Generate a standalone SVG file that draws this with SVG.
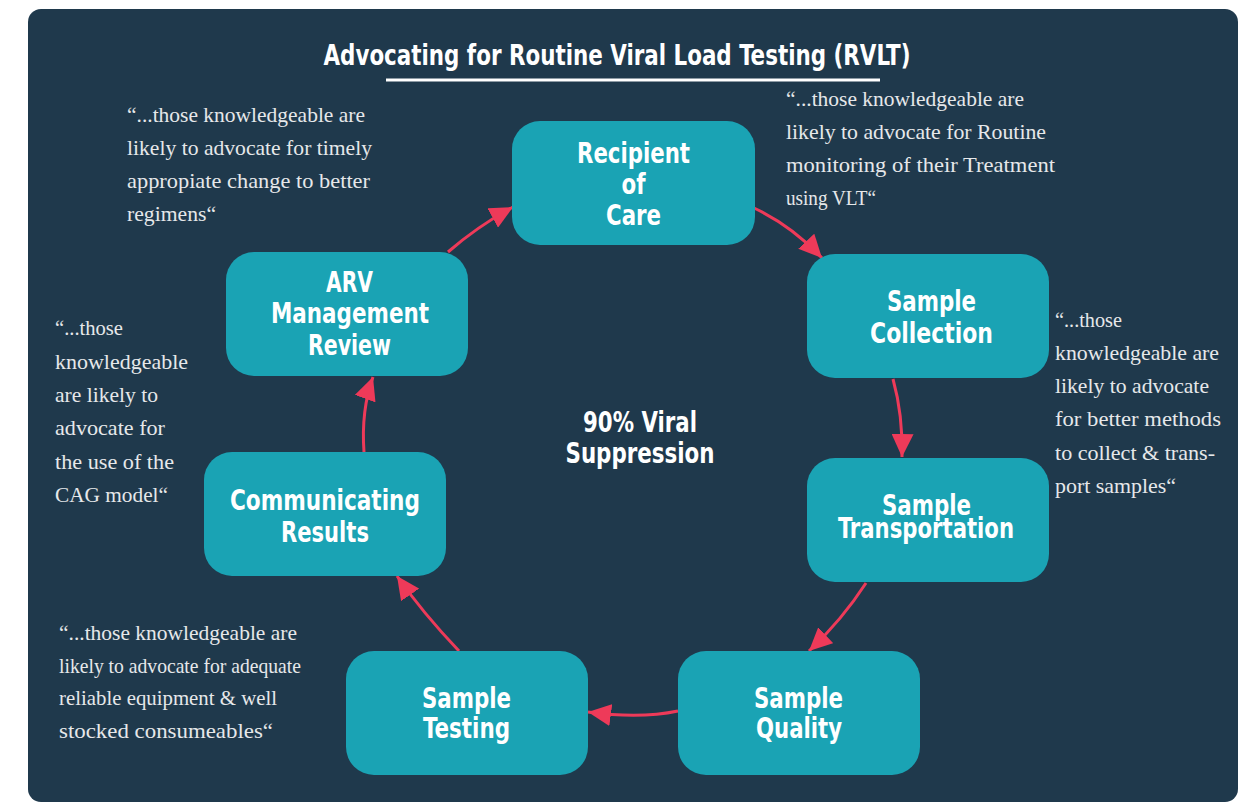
<svg xmlns="http://www.w3.org/2000/svg" width="1242" height="803" viewBox="0 0 1242 803">
<defs>
<style>
.node rect{fill:#1aa3b4;}
.nt{font-family:'Liberation Sans Narrow','DejaVu Sans Condensed','Roboto',sans-serif;font-weight:bold;font-size:28px;fill:#ffffff;text-anchor:middle;}
.q{font-family:'Liberation Serif','DejaVu Serif',serif;font-size:21px;fill:#e6e8ea;}
.conn path{fill:none;stroke:#ee3a59;stroke-width:3;marker-end:url(#ah);}
</style>
<marker id="ah" markerUnits="userSpaceOnUse" markerWidth="24" markerHeight="22" refX="23" refY="11" orient="auto">
<path d="M0,0 L23,11 L0,22 z" fill="#ee3a59"/>
</marker>
</defs>
<rect x="0" y="0" width="1242" height="803" fill="#ffffff"/>
<rect x="28" y="9" width="1210" height="793" rx="13" fill="#1f394c"/>

<g id="title">
<text x="617" y="65" class="nt" font-size="27" textLength="587" lengthAdjust="spacingAndGlyphs">Advocating for Routine Viral Load Testing (RVLT)</text>
<rect x="386" y="78.5" width="494" height="3" fill="#ffffff"/>
</g>

<g id="center-label">
<text x="640" y="432" class="nt" textLength="114" lengthAdjust="spacingAndGlyphs">90% Viral</text>
<text x="640" y="463" class="nt" textLength="149" lengthAdjust="spacingAndGlyphs">Suppression</text>
</g>

<g class="conn" id="connectors">
<path d="M754,208 Q792,226 822,258"/>
<path d="M893,379 Q903,415 902,457"/>
<path d="M866,583 Q842,620 809,651"/>
<path d="M678,711 Q640,719 588,712"/>
<path d="M459,651 Q422,612 397,576"/>
<path d="M364,452 Q361,410 373,377"/>
<path d="M448,252 Q478,226 513,207"/>
</g>

<g class="node" id="recipient-of-care">
<rect x="512" y="121" width="243" height="124" rx="28"/>
<text x="633.5" y="163" class="nt" textLength="113" lengthAdjust="spacingAndGlyphs">Recipient</text>
<text x="633.5" y="194" class="nt" textLength="24" lengthAdjust="spacingAndGlyphs">of</text>
<text x="633.5" y="225" class="nt" textLength="55" lengthAdjust="spacingAndGlyphs">Care</text>
</g>

<g class="node" id="sample-collection">
<rect x="807" y="254" width="242" height="124" rx="28"/>
<text x="931.5" y="311" class="nt" textLength="89" lengthAdjust="spacingAndGlyphs">Sample</text>
<text x="931.5" y="343" class="nt" textLength="123" lengthAdjust="spacingAndGlyphs">Collection</text>
</g>

<g class="node" id="sample-transportation">
<rect x="807" y="458" width="242" height="124" rx="28"/>
<text x="926.5" y="515" class="nt" textLength="89" lengthAdjust="spacingAndGlyphs">Sample</text>
<text x="926" y="538" class="nt" textLength="176" lengthAdjust="spacingAndGlyphs">Transportation</text>
</g>

<g class="node" id="sample-quality">
<rect x="678" y="651" width="242" height="124" rx="28"/>
<text x="798.5" y="708" class="nt" textLength="89" lengthAdjust="spacingAndGlyphs">Sample</text>
<text x="799" y="738" class="nt" textLength="86" lengthAdjust="spacingAndGlyphs">Quality</text>
</g>

<g class="node" id="sample-testing">
<rect x="346" y="651" width="242" height="124" rx="28"/>
<text x="466.5" y="708" class="nt" textLength="89" lengthAdjust="spacingAndGlyphs">Sample</text>
<text x="466.5" y="738" class="nt" textLength="87" lengthAdjust="spacingAndGlyphs">Testing</text>
</g>

<g class="node" id="communicating-results">
<rect x="204" y="452" width="242" height="124" rx="28"/>
<text x="325" y="510" class="nt" textLength="190" lengthAdjust="spacingAndGlyphs">Communicating</text>
<text x="325" y="542" class="nt" textLength="88" lengthAdjust="spacingAndGlyphs">Results</text>
</g>

<g class="node" id="arv-management-review">
<rect x="226" y="252" width="242" height="124" rx="28"/>
<text x="349.5" y="292" class="nt" textLength="47" lengthAdjust="spacingAndGlyphs">ARV</text>
<text x="350" y="323" class="nt" textLength="158" lengthAdjust="spacingAndGlyphs">Management</text>
<text x="349.5" y="355" class="nt" textLength="83" lengthAdjust="spacingAndGlyphs">Review</text>
</g>

<g id="quote-top-left">
<text x="127" y="122" class="q" textLength="238" lengthAdjust="spacingAndGlyphs">“...those knowledgeable are</text>
<text x="127" y="155" class="q" textLength="245" lengthAdjust="spacingAndGlyphs">likely to advocate for timely</text>
<text x="127" y="188" class="q" textLength="243" lengthAdjust="spacingAndGlyphs">appropiate change to better</text>
<text x="127" y="221" class="q" textLength="89" lengthAdjust="spacingAndGlyphs">regimens“</text>
</g>

<g id="quote-top-right">
<text x="786" y="106" class="q" textLength="238" lengthAdjust="spacingAndGlyphs">“...those knowledgeable are</text>
<text x="786" y="139" class="q" textLength="260" lengthAdjust="spacingAndGlyphs">likely to advocate for Routine</text>
<text x="786" y="172" class="q" textLength="269" lengthAdjust="spacingAndGlyphs">monitoring of their Treatment</text>
<text x="786" y="205" class="q" textLength="90" lengthAdjust="spacingAndGlyphs">using VLT“</text>
</g>

<g id="quote-right">
<text x="1055" y="327" class="q" textLength="67" lengthAdjust="spacingAndGlyphs">“...those</text>
<text x="1055" y="360" class="q" textLength="164" lengthAdjust="spacingAndGlyphs">knowledgeable are</text>
<text x="1055" y="393" class="q" textLength="154" lengthAdjust="spacingAndGlyphs">likely to advocate</text>
<text x="1055" y="426" class="q" textLength="166" lengthAdjust="spacingAndGlyphs">for better methods</text>
<text x="1055" y="460" class="q" textLength="160" lengthAdjust="spacingAndGlyphs">to collect &amp; trans-</text>
<text x="1055" y="493" class="q" textLength="121" lengthAdjust="spacingAndGlyphs">port samples“</text>
</g>

<g id="quote-left">
<text x="55" y="335" class="q" textLength="68" lengthAdjust="spacingAndGlyphs">“...those</text>
<text x="55" y="369" class="q" textLength="133" lengthAdjust="spacingAndGlyphs">knowledgeable</text>
<text x="55" y="402" class="q" textLength="103" lengthAdjust="spacingAndGlyphs">are likely to</text>
<text x="55" y="435" class="q" textLength="110" lengthAdjust="spacingAndGlyphs">advocate for</text>
<text x="55" y="469" class="q" textLength="119" lengthAdjust="spacingAndGlyphs">the use of the</text>
<text x="55" y="502" class="q" textLength="113" lengthAdjust="spacingAndGlyphs">CAG model“</text>
</g>

<g id="quote-bottom-left">
<text x="59" y="640" class="q" textLength="238" lengthAdjust="spacingAndGlyphs">“...those knowledgeable are</text>
<text x="59" y="673" class="q" textLength="242" lengthAdjust="spacingAndGlyphs">likely to advocate for adequate</text>
<text x="59" y="705" class="q" textLength="218" lengthAdjust="spacingAndGlyphs">reliable equipment &amp; well</text>
<text x="59" y="738" class="q" textLength="214" lengthAdjust="spacingAndGlyphs">stocked consumeables“</text>
</g>
</svg>
